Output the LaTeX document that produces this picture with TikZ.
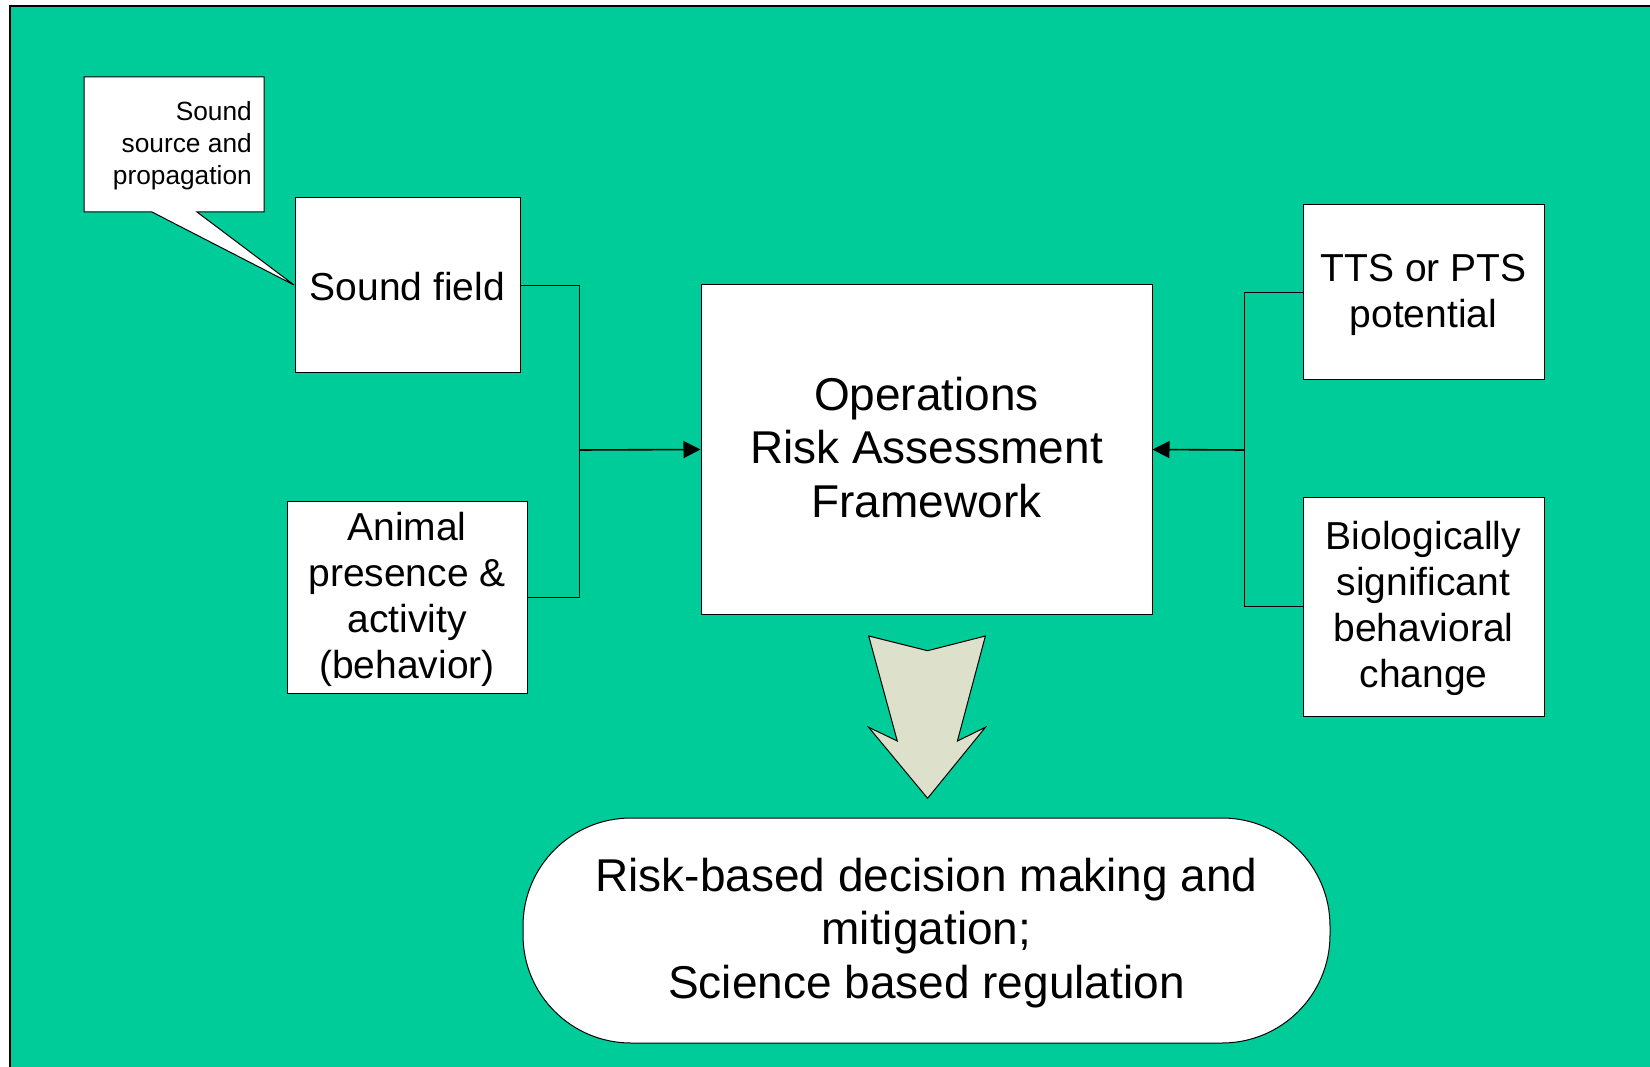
\documentclass[tikz,border=0pt]{standalone}
\usepackage{fontspec}
\setmainfont{Liberation Sans}
\usetikzlibrary{arrows.meta}
\definecolor{bggreen}{RGB}{0,204,153}
\definecolor{arrowfill}{RGB}{221,225,204}
\tikzset{
  box/.style={draw=black, line width=1pt, fill=white, inner sep=0pt},
  txt/.style={inner sep=0pt, align=center, font=\fontsize{39}{46}\selectfont},
  conn/.style={draw=black, line width=1pt},
  arr/.style={draw=black, line width=1.6pt, -{Triangle[length=17pt,width=17pt]}},
}
\begin{document}
\begin{tikzpicture}[x=1pt,y=-1pt]
\useasboundingbox (0,0) rectangle (1650,1067);
\fill[white] (0,0) rectangle (1650,1067);
\fill[bggreen] (10,6) rectangle (1650,1067);
\draw[black, line width=2pt] (10,1067) -- (10,6) -- (1650,6);

% callout
\draw[black, line width=1pt, fill=white] (84,77) -- (264,77) -- (264,212) -- (197,212) -- (294,285) -- (152,212) -- (84,212) -- cycle;
\node[anchor=east, align=right, inner sep=0pt, font=\fontsize{26.3}{31.8}\selectfont] (callout) at (252,145.5) {Sound\\source and\\propagation};

% boxes
\node[box, minimum width=225pt, minimum height=175pt] (sound) at (407.5,285.5) {};
\node[txt] (soundtxt) at (407.5,287) {Sound field};
\node[box, minimum width=240pt, minimum height=192pt] (animal) at (407,597) {};
\node[txt] (animaltxt) at (407,599) {Animal\\presence \&\\activity\\(behavior)};
\node[box, minimum width=451pt, minimum height=329pt] (ops) at (926.5,449.5) {};
\node[txt, font=\fontsize{46}{53.5}\selectfont] (opstxt) at (926.5,447.5) {Operations\\Risk Assessment\\Framework};
\node[box, minimum width=241pt, minimum height=175pt] (tts) at (1423.5,292.5) {};
\node[txt] (ttstxt) at (1423.5,294.5) {TTS or PTS\\potential};
\node[box, minimum width=241pt, minimum height=219pt] (bio) at (1423.5,606.5) {};
\node[txt, font=\fontsize{39}{45.8}\selectfont] (biotxt) at (1423.5,608.5) {Biologically\\significant\\behavioral\\change};
\node[box, minimum width=807pt, minimum height=225pt, rounded corners=108pt] (decision) at (926.5,930.5) {};
\node[txt, font=\fontsize{46}{53.5}\selectfont] (decisiontxt) at (926.5,933) {Risk-based decision making and\\mitigation;\\Science based regulation};

% connectors
\coordinate (jl) at (579,450);
\coordinate (jr) at (1244,450);
\draw[conn] (sound.east) -| (jl);
\draw[conn] (animal.east) -| (jl);
\draw[arr] (jl) -- (ops.west);
\draw[conn] (tts.west) -| (jr);
\draw[conn] (bio.west) -| (jr);
\draw[arr] (jr) -- (ops.east);

% big down arrow
\draw[black, line width=1pt, fill=arrowfill] (868.7,636) -- (927.6,650.7) -- (985.4,636) -- (957.4,741) -- (985.4,727.3) -- (927.6,798.3) -- (868.7,727.3) -- (897.3,741) -- cycle;
\end{tikzpicture}
\end{document}
